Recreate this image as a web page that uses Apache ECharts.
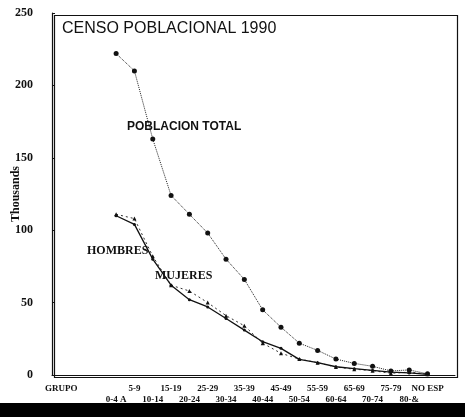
<!DOCTYPE html>
<html>
<head>
<meta charset="utf-8">
<script src="https://cdn.jsdelivr.net/npm/echarts@6/dist/echarts.min.js"></script>
<style>
  html, body { margin: 0; padding: 0; background: #fff; }
  #chart { width: 465px; height: 417px; }
</style>
</head>
<body>
<div id="chart"></div>
<script>
// age groups (blank slots keep the gaps of the original axis)
const categories = ['GRUPO', ' ', '  ', '0-4 A', '5-9', '10-14', '15-19', '20-24', '25-29', '30-34',
    '35-39', '40-44', '45-49', '50-54', '55-59', '60-64', '65-69', '70-74', '75-79', '80-&', 'NO ESP', '   '];

// values in thousands
const total = [null, null, null, 222, 210, 163, 124, 111, 98, 80, 66, 45, 33, 22, 17, 11, 8, 6, 2.8, 3.5, 0.8, null];
const hombres = [null, null, null, 111, 108, 82, 62, 58, 50, 41, 34, 22, 15, 11, 8.5, 5.5, 4, 3, 1.2, 2, 0.6, null];
const mujeres = [null, null, null, 110, 104, 80, 62, 52, 47, 39, 31, 23, 18.4, 10.8, 8.5, 5.7, 4.4, 3.2, 2, 1.4, 0.5, null];

const yTicks = [0, 50, 100, 150, 200, 250];

const chart = echarts.init(document.getElementById('chart'), null, { renderer: 'canvas' });

const serif = '"Liberation Serif", "DejaVu Serif", serif';
const sans = '"Liberation Sans", Arial, sans-serif';

const gridBox = { left: 52, right: 10, top: 13, bottom: 42 };

const option = {
    backgroundColor: '#fff',
    animation: false,
    grid: Object.assign({}, gridBox),
    xAxis: {
        type: 'category',
        data: categories,
        boundaryGap: true,
        axisLine: { show: true, lineStyle: { color: '#111', width: 1 } },
        axisTick: { inside: true, alignWithLabel: true, length: 3, interval: 0, lineStyle: { color: '#111' } },
        axisLabel: {
            interval: 0,
            margin: 8,
            fontFamily: serif,
            fontWeight: 'bold',
            fontSize: 9,
            lineHeight: 11,
            color: '#111',
            formatter: (v, i) => (i % 2 === 1 ? '\n' + v : v)
        },
        splitLine: { show: false }
    },
    yAxis: {
        type: 'value',
        min: yTicks[0],
        max: yTicks[yTicks.length - 1],
        interval: 50,
        name: 'Thousands',
        nameLocation: 'middle',
        nameGap: 30,
        nameMoveOverlap: false,
        nameTextStyle: { fontFamily: serif, fontWeight: 'bold', fontSize: 12, color: '#111' },
        axisLine: { show: true, onZero: false, lineStyle: { color: '#111', width: 1.2 } },
        axisTick: { show: true, inside: true, length: 3, lineStyle: { color: '#111' } },
        axisLabel: { margin: 19, fontFamily: serif, fontWeight: 'bold', fontSize: 12, color: '#111' },
        splitLine: { show: false }
    },
    series: [
        {
            name: 'POBLACION TOTAL',
            type: 'line',
            data: total,
            symbol: 'circle',
            symbolSize: 5,
            itemStyle: { color: '#111' },
            lineStyle: { color: '#222', width: 1, type: 'dotted' }
        },
        {
            name: 'HOMBRES',
            type: 'line',
            data: hombres,
            symbol: 'triangle',
            symbolSize: 4,
            itemStyle: { color: '#111' },
            lineStyle: { color: '#333', width: 1, type: [2, 3] }
        },
        {
            name: 'MUJERES',
            type: 'line',
            data: mujeres,
            symbol: 'circle',
            symbolSize: 3,
            itemStyle: { color: '#111' },
            lineStyle: { color: '#111', width: 1.3, type: 'solid' }
        }
    ],
    graphic: [
        {
            // plot frame
            type: 'rect',
            left: gridBox.left,
            top: gridBox.top,
            z: -1,
            shape: { width: 465 - gridBox.left - gridBox.right, height: 417 - gridBox.top - gridBox.bottom },
            style: { fill: null, stroke: '#111', lineWidth: 1.2 }
        },
        {
            type: 'text',
            left: 62,
            top: 21,
            style: { text: 'CENSO POBLACIONAL 1990', font: '16px ' + sans, fill: '#111' }
        },
        {
            type: 'text',
            left: 127,
            top: 121,
            style: { text: 'POBLACION TOTAL', font: 'bold 12px ' + sans, fill: '#111' }
        },
        {
            type: 'text',
            left: 87,
            top: 245,
            style: { text: 'HOMBRES', font: 'bold 12px ' + serif, fill: '#111' }
        },
        {
            type: 'text',
            left: 155,
            top: 270,
            style: { text: 'MUJERES', font: 'bold 12px ' + serif, fill: '#111' }
        },
        {
            type: 'rect',
            left: 0,
            top: 403,
            shape: { width: 465, height: 14 },
            style: { fill: '#000' }
        }
    ]
};

chart.setOption(option);
</script>
</body>
</html>
